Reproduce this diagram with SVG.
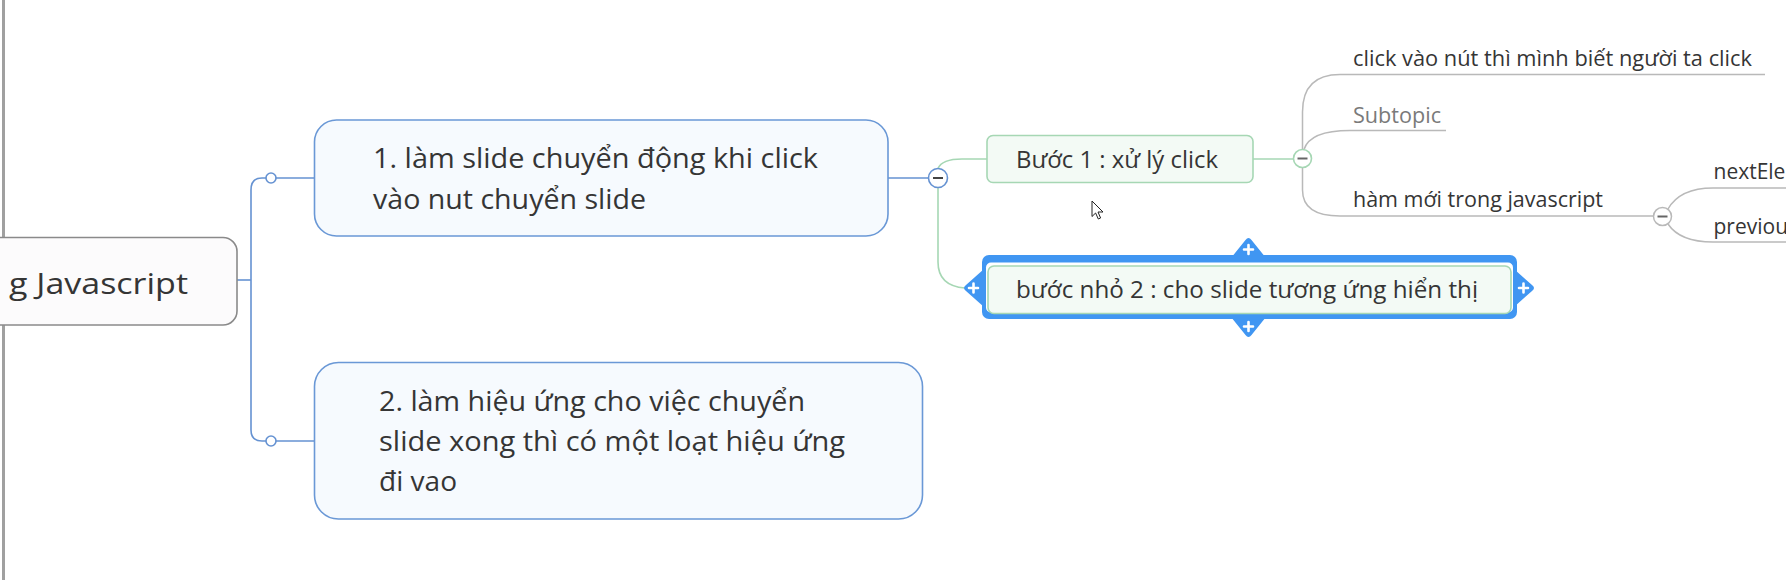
<svg xmlns="http://www.w3.org/2000/svg" width="1786" height="580" viewBox="0 0 1786 580">
<style>
text{font-family:"Open Sans","Noto Sans","DejaVu Sans",sans-serif;fill:#353535}
.big{font-size:28px}
.root{font-size:30px}
.mid{font-size:24px}
.sm{font-size:21px}
.blue{fill:none;stroke:#6592d2;stroke-width:1.6}
.green{fill:none;stroke:#a6d7b4;stroke-width:1.6}
.grey{fill:none;stroke:#b9b9b9;stroke-width:1.5}
.topic{fill:#f6fafe;stroke:#6a98d6;stroke-width:1.6}
.sub{fill:#f3faf5;stroke:#a6d7b4;stroke-width:1.6}
.minus{stroke:#444;stroke-width:2}
.plus{stroke:#fff;stroke-width:2.6;stroke-linecap:round}
.handle{fill:#4096f2}
</style>
<rect x="0" y="0" width="1786" height="580" fill="#fff"/>
<rect x="2" y="0" width="3" height="580" fill="#a0a0a0"/>

<g id="connectors">
  <path class="blue" d="M237,280 H251"/>
  <path class="blue" d="M266,178 H262 Q251,178 251,190 V430 Q251,441 262,441 H266"/>
  <circle cx="271" cy="178" r="5" fill="#fff" stroke="#6592d2" stroke-width="1.6"/>
  <circle cx="271" cy="441" r="5" fill="#fff" stroke="#6592d2" stroke-width="1.6"/>
  <path class="blue" d="M276,178 H314.5"/>
  <path class="blue" d="M276,441 H314.5"/>
  <path class="blue" d="M888,178 H928.5"/>
  <path class="green" d="M938,168.5 Q942,159 962,159 H987"/>
  <path class="green" d="M938,187.5 V262 Q938,286 965,288"/>
  <path class="green" d="M1253,159 H1293"/>
  <path class="grey" d="M1302.5,149.5 V112 Q1302.5,74.5 1340,74.5 H1765"/>
  <path class="grey" d="M1304,149.5 Q1310,130.5 1350,130.5 H1446"/>
  <path class="grey" d="M1302.5,167.5 V190 Q1302.5,216 1340,216 H1653"/>
  <path class="grey" d="M1668,209 Q1680,188 1713,188 H1786"/>
  <path class="grey" d="M1668,224 Q1680,242 1713,242 H1786"/>
  <circle cx="938" cy="178" r="9.5" fill="#fff" stroke="#6592d2" stroke-width="1.6"/>
  <path class="minus" d="M933,178 H943"/>
  <circle cx="1302.5" cy="158.5" r="9" fill="#fff" stroke="#a6d7b4" stroke-width="1.6"/>
  <path class="minus" d="M1297.5,158.5 H1307.5" style="stroke:#666"/>
  <circle cx="1662.5" cy="216.5" r="9" fill="#fff" stroke="#b9b9b9" stroke-width="1.5"/>
  <path class="minus" d="M1657.5,216.5 H1667.5" style="stroke:#666"/>
</g>

<g id="root">
  <rect x="-30" y="237.5" width="267" height="87.5" rx="14" fill="#fcfbfc" stroke="#8a8a8a" stroke-width="1.6"/>
  <text class="root" x="9" y="294" textLength="179" lengthAdjust="spacingAndGlyphs">g Javascript</text>
</g>

<g id="topic1">
  <rect class="topic" x="314.5" y="120" width="573.5" height="116" rx="22"/>
  <text class="big" x="373" y="168" textLength="445" lengthAdjust="spacingAndGlyphs">1. làm slide chuyển động khi click</text>
  <text class="big" x="373" y="209" textLength="273" lengthAdjust="spacingAndGlyphs">vào nut chuyển slide</text>
</g>

<g id="topic2">
  <rect class="topic" x="314.5" y="362.5" width="608" height="156.5" rx="24"/>
  <text class="big" x="379" y="410.5" textLength="426" lengthAdjust="spacingAndGlyphs">2. làm hiệu ứng cho việc chuyển</text>
  <text class="big" x="379" y="451" textLength="466" lengthAdjust="spacingAndGlyphs">slide xong thì có một loạt hiệu ứng</text>
  <text class="big" x="379" y="491" textLength="78" lengthAdjust="spacingAndGlyphs">đi vao</text>
</g>

<g id="step1">
  <rect class="sub" x="987" y="135.5" width="266" height="47" rx="6"/>
  <text class="mid" x="1016" y="168" textLength="202" lengthAdjust="spacingAndGlyphs">Bước 1 : xử lý click</text>
</g>

<g id="step2">
  <path class="handle" d="M1248.5,238 Q1250,238 1251.5,240 L1266,258 H1231 L1245.5,240 Q1247,238 1248.5,238 Z"/>
  <path class="handle" d="M1248.5,337 Q1250,337 1251.5,335 L1266,317 H1231 L1245.5,335 Q1247,337 1248.5,337 Z"/>
  <path class="handle" d="M964,288 Q964,286.5 966,285 L984,269 V307 L966,291 Q964,289.5 964,288 Z"/>
  <path class="handle" d="M1534,288 Q1534,286.5 1532,285 L1514,269 V307 L1532,291 Q1534,289.5 1534,288 Z"/>
  <rect class="handle" x="982" y="255" width="535" height="64" rx="7"/>
  <rect x="986" y="262.5" width="527" height="50" rx="5" fill="#fff"/>
  <rect class="sub" x="988" y="266" width="523" height="47.5" rx="6"/>
  <path class="plus" d="M1244,249.5 H1253 M1248.5,245 V254"/>
  <path class="plus" d="M1244,326.5 H1253 M1248.5,322 V331"/>
  <path class="plus" d="M969,288 H978 M973.5,283.5 V292.5"/>
  <path class="plus" d="M1519,288 H1528 M1523.5,283.5 V292.5"/>
  <text class="mid" x="1016" y="298" textLength="462" lengthAdjust="spacingAndGlyphs">bước nhỏ 2 : cho slide tương ứng hiển thị</text>
</g>

<g id="sub-click">
  <text class="sm" x="1353" y="66" textLength="399" lengthAdjust="spacingAndGlyphs">click vào nút thì mình biết người ta click</text>
</g>
<g id="sub-subtopic">
  <text class="sm" x="1353" y="122.5" textLength="88" lengthAdjust="spacingAndGlyphs" style="fill:#7a7a7a">Subtopic</text>
</g>
<g id="sub-ham">
  <text class="sm" x="1353" y="207" textLength="250" lengthAdjust="spacingAndGlyphs">hàm mới trong javascript</text>
</g>
<g id="sub-next">
  <text class="sm" x="1713.5" y="179">nextEle</text>
</g>
<g id="sub-prev">
  <text class="sm" x="1713.5" y="234">previou</text>
</g>

<path d="M1092,201 V216.5 L1095.6,213 L1098.3,219 L1100.6,218 L1098,212 H1103 Z" fill="#fff" stroke="#222" stroke-width="1" stroke-linejoin="round"/>
</svg>
